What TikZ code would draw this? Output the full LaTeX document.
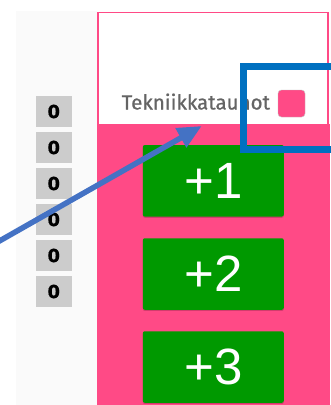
\documentclass[tikz,border=0pt]{standalone}
\usepackage{fontspec}
\setmainfont{Liberation Sans}
\newfontfamily\labelfont[FakeBold=0.8]{Fira Sans}
\newfontfamily\zerofont[FakeBold=0.6]{DejaVu Sans Bold}
\usetikzlibrary{arrows.meta}
\definecolor{pinkbg}{HTML}{FF4A86}
\definecolor{greenbtn}{HTML}{009900}
\definecolor{zerogrey}{HTML}{CCCCCC}
\definecolor{panelgrey}{HTML}{FAFAFA}
\definecolor{hlblue}{HTML}{0070C0}
\definecolor{arrowblue}{HTML}{4472C4}
\definecolor{labelgrey}{HTML}{646464}
\tikzset{
  zerobox/.style={fill=zerogrey, minimum width=35.7pt, minimum height=31pt, inner sep=0pt,
    font=\fontsize{18}{18}\zerofont\selectfont, text=black},
  plusbtn/.style={fill=greenbtn, rounded corners=2pt, minimum width=141pt, minimum height=71.5pt,
    inner sep=0pt, text=white, font=\fontsize{51}{51}\selectfont,
    preaction={fill=black, opacity=0.18, transform canvas={yshift=-1.2pt}}},
  hlbox/.style={draw=hlblue, line width=7pt, inner sep=0pt},
  pointer/.style={draw=arrowblue, line width=5.5pt, -{Triangle[length=24pt,width=21pt]}},
}
\begin{document}
\begin{tikzpicture}[x=1pt,y=-1pt]
\useasboundingbox (0,0) rectangle (330,405);
\fill[white] (0,0) rectangle (330,405);
% left grey panel
\fill[panelgrey] (16,11) rectangle (97,405);
% pink area
\fill[pinkbg] (97.5,124) rectangle (330,405);
\draw[pinkbg, line width=1.2pt] (98,405) -- (98,12.3) -- (328,12.3) -- (328,124);
% zero boxes
\node[zerobox] (z1) at (53.8,111.5) {0};
\node[zerobox] (z2) at (53.8,147.5) {0};
\node[zerobox] (z3) at (53.8,183.5) {0};
\node[zerobox] (z4) at (53.8,219.5) {0};
\node[zerobox] (z5) at (53.8,255.5) {0};
\node[zerobox] (z6) at (53.8,291.5) {0};
% buttons
\node[plusbtn] (b1) at (213.3,180.8) {+1};
\node[plusbtn] (b2) at (213.3,274) {+2};
\node[plusbtn] (b3) at (213.3,367) {+3};
% label and swatch
\node[anchor=base west, inner sep=0pt, text=labelgrey, font=\labelfont\fontsize{20.5}{21}\selectfont] (lbl) at (121.5,109.5) {Tekniikkataunot};
\node[fill=pinkbg, draw=black!25, line width=0.4pt, rounded corners=3.5pt, minimum size=27pt, inner sep=0pt] (sw) at (291.5,103.5) {};
% highlight box
\coordinate (hlA) at (243,66);
\coordinate (hlB) at (345,149);
\draw[hlbox] (hlA) rectangle (hlB);
% pointer arrow
\coordinate (pstart) at (-12,247.5);
\coordinate (ptip) at (201.7,126);
\draw[pointer] (pstart) -- (ptip);
\end{tikzpicture}
\end{document}
